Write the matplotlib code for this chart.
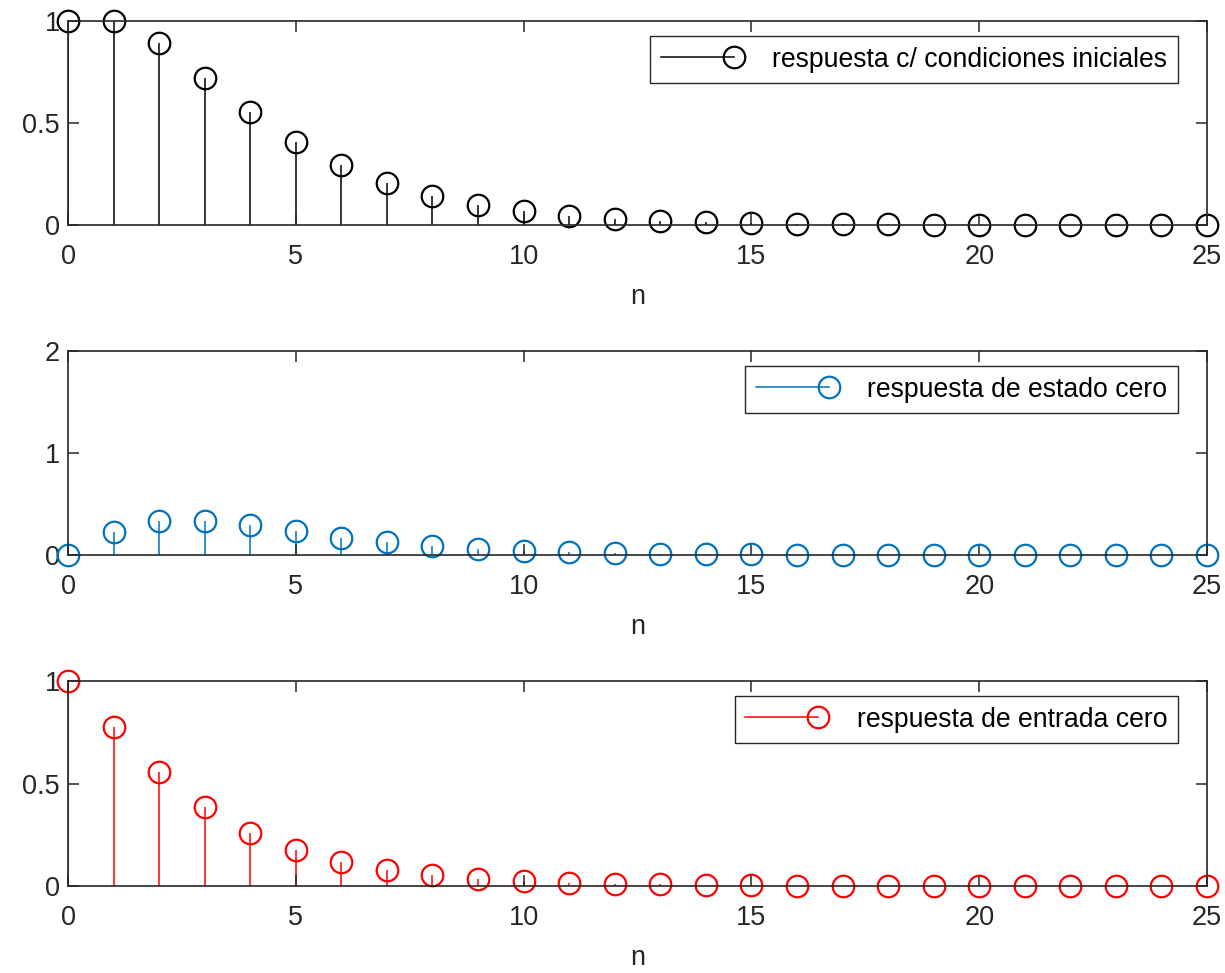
import numpy as np
import matplotlib
matplotlib.use("Agg")
import matplotlib.pyplot as plt
from matplotlib.lines import Line2D
from matplotlib.legend_handler import HandlerBase

plt.rcParams['font.family'] = ['Liberation Sans', 'DejaVu Sans']

n = list(range(26))
y_total = [1.0, 1.0, 0.891, 0.723, 0.554, 0.407, 0.292, 0.205, 0.142, 0.098, 0.067,
           0.046, 0.031, 0.021, 0.015, 0.010, 0.007, 0.005, 0.003, 0.002, 0.0015,
           0.001, 0.0007, 0.0005, 0.0003, 0.0002]
y_zero_state = [0.0, 0.225, 0.332, 0.338, 0.293, 0.232, 0.171, 0.126, 0.087, 0.058, 0.042,
                0.029, 0.019, 0.012, 0.008, 0.005, 0.003, 0.002, 0.0015, 0.001, 0.0007,
                0.0005, 0.0003, 0.0002, 0.0001, 0.0001]
y_zero_input = [1.0, 0.778, 0.556, 0.384, 0.259, 0.174, 0.117, 0.079, 0.053, 0.035, 0.025,
                0.017, 0.011, 0.008, 0.005, 0.003, 0.002, 0.0015, 0.001, 0.0007, 0.0005,
                0.0003, 0.0002, 0.0001, 0.0001, 0.0001]

labels = ['respuesta c/ condiciones iniciales', 'respuesta de estado cero', 'respuesta de entrada cero']
colors = ['#000000', '#0072BD', '#FF0000']
ylims = [(0, 1), (0, 2), (0, 1)]
yticks = [[0, 0.5, 1], [0, 1, 2], [0, 0.5, 1]]
yticklabels = [['0', '0.5', '1'], ['0', '1', '2'], ['0', '0.5', '1']]
xticks = [0, 5, 10, 15, 20, 25]
series = [y_total, y_zero_state, y_zero_input]

W, H = 1225, 973
fig = plt.figure(figsize=(W / 100, H / 100), dpi=100)

# axes boxes in pixels: (left, top, right, bottom)
boxes = [(68, 21, 1207, 225), (68, 351, 1207, 555), (68, 681, 1207, 886)]

axcol = '#262626'
fs = 19.5
lfs = 19.2
ms = 15.5
mew = 1.6
slw = 1.1


class StemHandler(HandlerBase):
    def create_artists(self, legend, orig_handle, xdescent, ydescent, width, height,
                       fontsize, trans):
        yc = height / 2 - ydescent
        x0 = -xdescent
        x1 = -xdescent + width
        c = orig_handle.get_color()
        line = Line2D([x0, x1], [yc, yc], color=c, linewidth=orig_handle.get_linewidth())
        mk = Line2D([x1], [yc], linestyle='none', marker='o', markersize=orig_handle.get_markersize(),
                    markerfacecolor='none', markeredgecolor=c,
                    markeredgewidth=orig_handle.get_markeredgewidth())
        line.set_transform(trans)
        mk.set_transform(trans)
        return [line, mk]


for i in range(3):
    l, t, r, b = boxes[i]
    ax = fig.add_axes([l / W, 1 - b / H, (r - l) / W, (b - t) / H])
    y = series[i]
    c = colors[i]
    ax.vlines(n, 0, y, colors=c, linewidth=slw, zorder=2)
    ax.plot(n, y, linestyle='none', marker='o', markersize=ms, markerfacecolor='none',
            markeredgecolor=c, markeredgewidth=mew, clip_on=False, zorder=3)
    ax.set_xlim(0, 25)
    ax.set_ylim(*ylims[i])
    ax.set_xticks(xticks)
    ax.set_xticklabels([str(v) for v in xticks])
    ax.set_yticks(yticks[i])
    ax.set_yticklabels(yticklabels[i])
    ax.set_axisbelow(False)
    ax.tick_params(direction='in', length=8, width=1.1, color=axcol, labelcolor=axcol,
                   labelsize=fs, top=True, right=True)
    ax.tick_params(axis='x', pad=14)
    ax.tick_params(axis='y', pad=6)
    for s in ax.spines.values():
        s.set_color(axcol)
        s.set_linewidth(1.2)
        s.set_zorder(4)
    ax.set_xlabel('n', fontsize=fs, color=axcol, labelpad=10)
    h = Line2D([], [], color=c, linewidth=slw, marker='o', markersize=ms,
               markerfacecolor='none', markeredgecolor=c, markeredgewidth=mew)
    hpx = b - t
    leg = ax.legend([h], [labels[i]], loc='upper right',
                    bbox_to_anchor=((1178 - l) / (r - l), 1 - 15 / hpx),
                    borderaxespad=0, fancybox=False, framealpha=1, edgecolor=axcol,
                    fontsize=lfs, handlelength=2.73, handletextpad=1.45, borderpad=0.4,
                    handler_map={h: StemHandler()})
    leg.get_frame().set_linewidth(1.0)

fig.savefig('out.png', dpi=100)
